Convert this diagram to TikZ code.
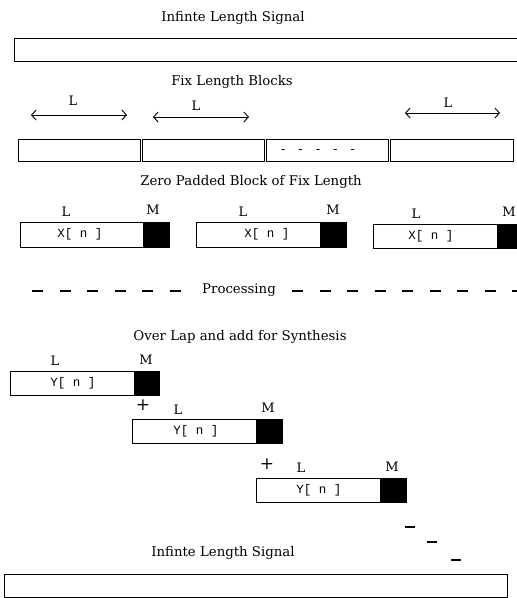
\documentclass[tikz,border=0pt]{standalone}
\usepackage{fontspec}
\setmainfont{DejaVu Serif}
\setmonofont{Liberation Mono}
\usetikzlibrary{arrows.meta}

\begin{document}
\begin{tikzpicture}[x=1pt, y=-1pt, line width=1pt,
  every node/.style={font=\fontsize{13}{15}\selectfont, inner sep=1pt},
  title/.style={font=\fontsize{13.3}{16}\selectfont},
  sig/.style={font=\ttfamily\fontsize{12.5}{14}\selectfont},
  pad/.style={draw, fill=black},
  dim/.style={{Straight Barb[length=4.5pt,width=10pt]}-{Straight Barb[length=4.5pt,width=10pt]}, line width=0.9pt},
  gap/.style={line width=1.3pt, dash pattern=on 11pt off 16.5pt}]
  \clip (0,0) rectangle (517,598);

  % infinite input
  \node[title] (top) at (233,18) {Infinte Length Signal};
  \draw (14,38) rectangle (530,61);

  % fix length blocks
  \node[title] (fix) at (232,82) {Fix Length Blocks};
  \coordinate (a1) at (31,115);  \coordinate (b1) at (127,115);
  \coordinate (a2) at (153,117); \coordinate (b2) at (249,117);
  \coordinate (a3) at (405,113); \coordinate (b3) at (500,113);
  \draw[dim] (a1) -- (b1); \node (l1) at (73,101) {L};
  \draw[dim] (a2) -- (b2); \node (l2) at (196,106) {L};
  \draw[dim] (a3) -- (b3); \node (l3) at (448,103) {L};
  \draw (18,139) rectangle (140,161);
  \draw (142,139) rectangle (264,161);
  \draw (266,139) rectangle (388,161);
  \draw (390,139) rectangle (513,161);
  \node (more) at (318,152) {-\hspace{13pt}-\hspace{13pt}-\hspace{13pt}-\hspace{13pt}-};

  % zero padded
  \node[title] (zero) at (251,182) {Zero Padded Block of Fix Length};
  \draw (20,222) rectangle (169,247);   \draw[pad] (143,222) rectangle (169,247);
  \draw (196,222) rectangle (346,247);  \draw[pad] (320,222) rectangle (346,247);
  \draw (373,224) rectangle (530,248);  \draw[pad] (497,224) rectangle (530,248);
  \node[sig] (x1) at (80,234) {X[ n ]};
  \node[sig] (x2) at (267,234) {X[ n ]};
  \node[sig] (x3) at (431,236) {X[ n ]};
  \node (xl1) at (66,212) {L};  \node (xm1) at (153,210) {M};
  \node (xl2) at (243,212) {L}; \node (xm2) at (333,210) {M};
  \node (xl3) at (416,214) {L}; \node (xm3) at (509,212) {M};

  % processing
  \node[title] (proc) at (239,290) {Processing};
  \coordinate (pl) at (32,291); \coordinate (pm) at (182,291);
  \coordinate (pq) at (292,291); \coordinate (pr) at (530,291);
  \draw[gap] (pl) -- (pm);
  \draw[gap] (pq) -- (pr);

  % overlap add
  \node[title] (ola) at (240,337) {Over Lap and add for Synthesis};
  \draw (10,371) rectangle (159,395);   \draw[pad] (134,371) rectangle (159,395);
  \draw (132,419) rectangle (282,443);  \draw[pad] (256,419) rectangle (282,443);
  \draw (256,478) rectangle (406,502);  \draw[pad] (380,478) rectangle (406,502);
  \node[sig] (y1) at (73,383) {Y[ n ]};
  \node[sig] (y2) at (196,431) {Y[ n ]};
  \node[sig] (y3) at (319,490) {Y[ n ]};
  \node (yl1) at (55,361) {L};  \node (ym1) at (146,360) {M};
  \node (yl2) at (178,410) {L}; \node (ym2) at (268,408) {M};
  \node (yl3) at (301,468) {L}; \node (ym3) at (392,467) {M};
  \node[font=\fontsize{17}{17}\selectfont] (p1) at (143,405) {+};
  \node[font=\fontsize{17}{17}\selectfont] (p2) at (267,464) {+};
  \draw[line width=1.3pt] (405,527) -- (415,527);
  \draw[line width=1.3pt] (427,542) -- (437,542);
  \draw[line width=1.3pt] (451,560) -- (461,560);

  % infinite output
  \node[title] (bot) at (223,553) {Infinte Length Signal};
  \draw (4,574) rectangle (507,597);
\end{tikzpicture}
\end{document}
